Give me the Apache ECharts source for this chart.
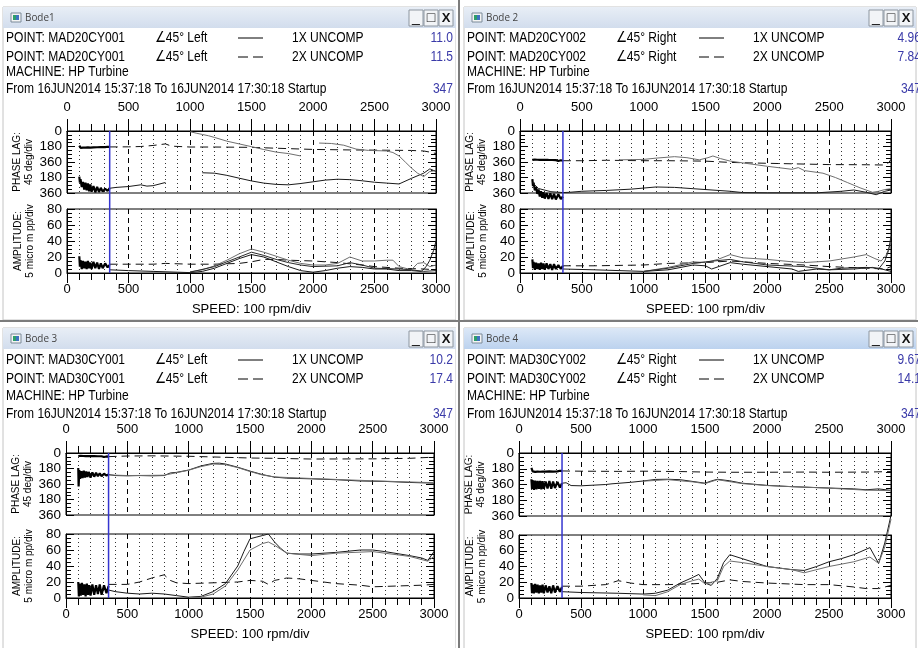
<!DOCTYPE html>
<html>
<head>
<meta charset="utf-8">
<script src="https://cdn.jsdelivr.net/npm/echarts@6/dist/echarts.min.js"></script>
<style>
  html, body { margin: 0; padding: 0; background: #fff; }
  #chart { width: 918px; height: 648px; }
</style>
</head>
<body>
<div id="chart"></div>
<script>
// axis ticks
const speedMin = 0, speedMax = 3000, speedStep = 500;
const phaseLabels = ['0', '180', '360', '180', '360']; // 0..720 deg, wrapped
const ampLabels = ['0', '20', '40', '60', '80'];
const cursorRpm = 347;

// ---- Bode1 : MAD20CY001 ----
const b1PhaseNoise2 = [[100,170],[110,195],[120,178],[130,192],[140,176],[150,194],[160,180],[170,190],[180,177],[190,193],[200,181],[215,190],[230,178],[245,189],[260,182],[275,188],[290,180],[310,187],[330,183],[347,185]];
const b1PhaseDash = [[347,185],[500,184],[600,180],[700,168],[800,150],[850,176],[1000,186],[1200,186],[1500,190],[1700,200],[2000,214],[2300,220],[2500,222],[2800,226],[2900,232],[2950,245],[3000,262]];
const b1PhaseNoise1 = [[100,530],[105,600],[110,560],[120,650],[130,590],[140,680],[150,600],[160,690],[170,610],[180,700],[190,620],[200,705],[215,640],[230,712],[245,650],[260,708],[275,660],[290,704],[310,670],[330,696],[347,665]];
const b1PhaseSolid = [[347,665],[400,655],[500,645],[600,625],[650,640],[700,635],[800,598],[900,'-'],[1100,485],[1200,490],[1300,515],[1400,548],[1500,580],[1600,605],[1700,620],[1800,625],[1900,610],[2000,590],[2100,570],[2200,560],[2300,565],[2400,578],[2500,595],[2600,605],[2700,615],[2800,550],[2900,490],[2950,440],[3000,470]];
const b1PhaseGrey = [[1000,8],[1050,25],[1100,40],[1150,55],[1200,75],[1300,118],[1400,150],[1500,182],[1600,215],[1700,245],[1800,262],[1900,290],[2000,'-'],[2050,140],[2150,145],[2250,165],[2350,210],[2450,225],[2600,232],[2650,250],[2700,290],[2750,360],[2800,430],[2850,490],[2900,530],[2950,470],[3000,460]];
const b1AmpNoise = [[100,21],[105,8],[110,16],[120,5],[130,15],[140,6],[150,14],[160,5],[170,15],[180,6],[190,13],[200,5],[215,14],[230,6],[245,13],[260,5],[275,12],[290,6],[310,12],[330,7],[347,10]];
const b1AmpDash = [[347,11],[500,11],[700,11],[800,12],[1000,11],[1200,11],[1400,12],[1500,14],[1600,17],[1700,17],[1800,16],[2000,15],[2200,13],[2400,10],[2500,8],[2700,6],[2900,5],[3000,4]];
const b1AmpSolid = [[347,4],[500,3],[700,2],[900,1],[1000,0.5],[1100,2],[1200,6],[1300,12],[1400,18],[1500,23],[1600,20],[1700,14],[1800,8],[1900,3],[2000,1],[2100,3],[2200,6],[2300,8],[2400,7],[2500,5],[2600,5],[2700,3],[2800,3],[2880,2],[2920,8],[2950,16],[2980,28],[3000,40]];
const b1AmpGrey = [[1000,1.5],[1100,4],[1200,9],[1300,16],[1400,24],[1500,30],[1600,26],[1700,21],[1800,16],[1900,12],[2000,10],[2100,10],[2200,12],[2300,20],[2400,15],[2500,15],[2600,16],[2650,16],[2700,8],[2800,4],[2850,12],[2900,13],[2950,8],[3000,10]];
const b1AmpMid = [[1000,1],[1200,8],[1400,20],[1500,26],[1600,22],[1700,17],[1800,13],[1900,10],[2000,8],[2200,9],[2300,13],[2400,10],[2500,6],[2700,5],[2800,4],[2900,2],[3000,3]];

// ---- Bode2 : MAD20CY002 ----
const b2PhaseNoise2 = [[100,335],[110,350],[120,332],[130,352],[140,334],[150,350],[160,335],[170,352],[180,336],[190,350],[200,334],[215,351],[230,336],[245,349],[260,337],[275,350],[290,338],[310,348],[330,340],[347,345]];
const b2PhaseDash = [[347,345],[500,345],[700,340],[1000,345],[1200,345],[1500,350],[1700,365],[2000,375],[2500,390],[2800,392],[2950,395],[2980,370],[3000,330]];
const b2PhaseNoise1 = [[100,560],[105,640],[110,600],[120,690],[130,650],[140,730],[150,680],[160,760],[170,700],[180,775],[190,710],[200,785],[215,720],[230,790],[245,725],[260,792],[275,730],[290,795],[310,735],[330,790],[347,760]];
const b2PhaseSolid = [[100,600],[150,668],[250,705],[347,715],[400,712],[500,700],[700,690],[900,675],[1100,650],[1250,655],[1400,670],[1500,680],[1700,700],[1800,715],[2000,718],[2400,718],[2600,700],[2700,685],[2800,712],[2880,740],[2950,700],[3000,685]];
const b2PhaseGrey = [[800,335],[1000,330],[1100,315],[1250,298],[1350,310],[1450,335],[1520,310],[1560,290],[1620,320],[1700,350],[1800,370],[2000,410],[2200,445],[2250,425],[2300,460],[2450,490],[2550,540],[2650,600],[2750,660],[2850,712],[2900,700],[2950,680],[3000,670]];
const b2AmpNoise = [[100,17],[105,6],[110,14],[120,4],[130,13],[140,5],[150,12],[160,4],[170,13],[180,5],[190,12],[200,4],[215,12],[230,5],[245,11],[260,4],[275,11],[290,5],[310,10],[330,5],[347,9]];
const b2AmpDash = [[347,9],[600,9],[1000,10],[1200,12],[1500,13],[1700,15],[2000,12],[2300,10],[2500,8],[2800,6],[2950,5],[3000,8]];
const b2AmpSolid = [[347,5],[600,4],[1000,2],[1200,4],[1400,10],[1500,9],[1550,5],[1700,13],[1800,11],[2000,8],[2200,5],[2250,2],[2400,5],[2500,4],[2600,6],[2800,7],[2900,6],[3000,2]];
const b2AmpGrey = [[1000,2],[1200,7],[1400,14],[1500,13],[1600,17],[1700,23],[1800,19],[2000,17],[2200,14],[2300,13],[2500,15],[2700,20],[2800,23],[2870,18],[2920,15],[2960,22],[3000,38]];
const b2AmpMid = [[1000,2],[1200,6],[1400,12],[1500,14],[1700,17],[1800,14],[2000,10],[2300,8],[2500,4],[2700,5],[2850,7],[2900,5],[2950,15],[2980,28],[3000,46]];

// ---- Bode3 : MAD30CY001 ----
const b3PhaseNoise2 = [[100,35],[110,50],[120,33],[130,52],[140,35],[150,50],[160,36],[170,51],[180,35],[190,50],[200,37],[215,50],[230,36],[245,49],[260,38],[275,48],[290,38],[310,47],[330,40],[347,42]];
const b3PhaseDash = [[347,42],[500,35],[700,33],[1000,38],[1300,50],[1500,58],[1700,62],[2000,70],[2500,68],[2800,62],[3000,48]];
const b3PhaseNoise1 = [[100,175],[103,390],[108,200],[115,300],[125,210],[135,290],[145,205],[155,285],[165,215],[175,280],[185,220],[200,285],[215,225],[230,275],[245,230],[260,270],[275,235],[290,270],[310,240],[330,262],[347,250]];
const b3PhaseSolid = [[347,250],[400,262],[500,265],[600,262],[700,265],[800,262],[850,232],[900,225],[1000,198],[1100,150],[1200,120],[1250,118],[1300,128],[1400,165],[1500,210],[1600,250],[1700,280],[1800,292],[2000,300],[2200,310],[2400,325],[2600,330],[2800,342],[3000,350]];
const b3PhaseGrey = [[350,255],[500,262],[800,258],[1000,200],[1100,158],[1200,128],[1300,135],[1400,170],[1500,215],[1600,255],[1700,278],[2000,296],[2500,323],[3000,345]];
const b3AmpNoise = [[100,20],[105,2],[110,18],[120,3],[130,19],[140,4],[150,17],[160,2],[170,18],[180,4],[190,16],[200,3],[215,17],[230,4],[245,16],[260,5],[275,17],[290,4],[310,16],[330,6],[347,15]];
const b3AmpDash = [[347,17],[500,17],[600,20],[700,25],[800,29],[850,22],[900,19],[1000,18],[1200,19],[1400,20],[1500,22],[1600,21],[1650,17],[1700,22],[1800,25],[1900,24],[2000,22],[2200,18],[2400,16],[2500,14],[2700,15],[2900,16],[3000,17]];
const b3AmpSolid = [[347,10],[400,8],[500,6],[600,5],[700,6],[800,5],[900,3],[1000,1],[1100,2],[1200,8],[1300,18],[1400,40],[1450,58],[1500,74],[1550,76],[1600,78],[1650,80],[1700,70],[1750,62],[1800,56],[1900,55],[2000,55],[2200,57],[2400,60],[2500,60],[2600,58],[2800,53],[2900,50],[2950,47],[3000,58]];
const b3AmpGrey = [[1000,0.5],[1100,1],[1200,5],[1300,15],[1400,35],[1500,60],[1600,68],[1650,70],[1700,66],[1800,56],[2000,53],[2200,56],[2500,58],[2800,52],[2950,46],[3000,52]];
const b3AmpMid = [];

// ---- Bode4 : MAD30CY002 ----
const b4PhaseNoise2 = [[100,170],[110,210],[120,195],[130,215],[140,198],[150,213],[160,196],[170,214],[180,198],[190,212],[200,197],[215,213],[230,199],[245,211],[260,200],[275,212],[290,201],[310,210],[330,203],[347,205]];
const b4PhaseDash = [[347,205],[500,208],[800,210],[1000,208],[1300,212],[1500,218],[1700,220],[2000,220],[2300,218],[2500,220],[2800,218],[3000,212]];
const b4PhaseNoise1 = [[100,300],[105,410],[110,310],[120,420],[130,315],[140,415],[150,318],[160,410],[170,320],[180,415],[190,322],[200,410],[215,325],[230,405],[245,320],[260,408],[275,325],[290,400],[310,330],[330,395],[347,345]];
const b4PhaseSolid = [[347,345],[380,340],[420,372],[500,375],[510,362],[700,360],[750,352],[900,335],[1000,320],[1100,302],[1200,300],[1300,305],[1400,325],[1500,345],[1550,320],[1600,300],[1700,318],[1800,345],[2000,370],[2200,385],[2500,400],[2700,410],[2800,420],[2900,410],[3000,428]];
const b4PhaseGrey = [[1000,322],[1200,305],[1400,330],[1500,350],[1600,305],[1800,350],[2000,372],[2500,402],[2800,425],[3000,430]];
const b4AmpNoise = [[100,19],[105,6],[110,17],[120,6],[130,18],[140,7],[150,17],[160,6],[170,16],[180,7],[190,17],[200,6],[215,16],[230,7],[245,15],[260,6],[275,16],[290,7],[310,15],[330,8],[347,14]];
const b4AmpDash = [[347,15],[500,15],[700,17],[800,22],[900,19],[1000,17],[1200,17],[1400,18],[1500,19],[1600,20],[1700,23],[1800,21],[2000,19],[2300,17],[2500,17],[2700,14],[2800,12],[2900,12],[3000,16]];
const b4AmpSolid = [[347,8],[500,7],[800,6],[1000,5],[1100,6],[1200,10],[1300,19],[1400,26],[1450,30],[1500,19],[1550,16],[1600,25],[1650,45],[1700,55],[1800,50],[1900,45],[2000,40],[2100,38],[2200,36],[2300,35],[2400,40],[2500,46],[2600,50],[2700,55],[2830,64],[2900,44],[2950,70],[3000,105]];
const b4AmpGrey = [[1000,4],[1100,3],[1200,8],[1300,17],[1400,22],[1450,24],[1500,18],[1600,22],[1650,40],[1700,47],[1800,45],[2000,40],[2200,36],[2300,32],[2500,40],[2700,46],[2830,52],[2900,44],[2950,65],[3000,100]];
const b4AmpMid = [];

const FONT = "'Liberation Sans',Arial,sans-serif";
const NARROW = 0.83; // the original uses a narrow face; squeeze header text to match

// window layout
const panels = [
  { title: 'Bode1', point: 'MAD20CY001', side: 'Left', v1: '11.0', v2: '11.5', x0: 0, x1: 458, barY: 7, rowY: [38, 57, 72, 89],
    left: 67, width: 369, phaseTop: 131, phaseH: 62, ampTop: 209, ampH: 64, valRight: 453,
    phase: [b1PhaseNoise2, b1PhaseDash, b1PhaseNoise1, b1PhaseSolid, b1PhaseGrey], amp: [b1AmpNoise, b1AmpDash, b1AmpSolid, b1AmpGrey, b1AmpMid], noClip: [] },
  { title: 'Bode 2', point: 'MAD20CY002', side: 'Right', v1: '4.96', v2: '7.84', x0: 461, x1: 918, barY: 7, rowY: [38, 57, 72, 89],
    left: 520, width: 371, phaseTop: 131, phaseH: 62, ampTop: 209, ampH: 64, valRight: 921,
    phase: [b2PhaseNoise2, b2PhaseDash, b2PhaseNoise1, b2PhaseSolid, b2PhaseGrey], amp: [b2AmpNoise, b2AmpDash, b2AmpSolid, b2AmpGrey, b2AmpMid], noClip: ['p2', 'p3'] },
  { title: 'Bode 3', point: 'MAD30CY001', side: 'Left', v1: '10.2', v2: '17.4', x0: 0, x1: 458, barY: 328, rowY: [360, 379, 396, 414],
    left: 66, width: 368, phaseTop: 453, phaseH: 62, ampTop: 534, ampH: 64, valRight: 453,
    phase: [b3PhaseNoise2, b3PhaseDash, b3PhaseNoise1, b3PhaseSolid, b3PhaseGrey], amp: [b3AmpNoise, b3AmpDash, b3AmpSolid, b3AmpGrey, b3AmpMid], noClip: [] },
  { title: 'Bode 4', point: 'MAD30CY002', side: 'Right', v1: '9.67', v2: '14.1', x0: 461, x1: 918, barY: 328, rowY: [360, 379, 396, 414],
    left: 519, width: 372, phaseTop: 453, phaseH: 63, ampTop: 535, ampH: 63, valRight: 921, active: true,
    phase: [b4PhaseNoise2, b4PhaseDash, b4PhaseNoise1, b4PhaseSolid, b4PhaseGrey], amp: [b4AmpNoise, b4AmpDash, b4AmpSolid, b4AmpGrey, b4AmpMid], noClip: ['a2', 'a3'] }
];

// line looks: noise, 2X dashed, noise, 1X, grey trace
const phaseStyles = [
  { color: '#000', width: 2.2 },
  { color: '#111', width: 1, type: [8, 5] },
  { color: '#000', width: 2.2 },
  { color: '#1a1a1a', width: 1 },
  { color: '#6e6e6e', width: 1 }
];
const ampStyles = [
  { color: '#000', width: 2.2 },
  { color: '#111', width: 1, type: [8, 5] },
  { color: '#1a1a1a', width: 1 },
  { color: '#6e6e6e', width: 1 },
  { color: '#2a2a2a', width: 1 }
];

const chart = echarts.init(document.getElementById('chart'), null, { renderer: 'canvas' });

const grids = [], xAxes = [], yAxes = [], series = [];

function xAxis(gi, top) {
  return {
    type: 'value', gridIndex: gi, position: top ? 'top' : 'bottom',
    min: speedMin, max: speedMax, interval: speedStep,
    axisLine: { show: true, onZero: false, lineStyle: { color: '#000', width: 1 } },
    axisTick: { show: true, length: top ? 12 : 10, lineStyle: { color: '#000' } },
    minorTick: { show: true, splitNumber: 5, length: 7, lineStyle: { color: '#000' } },
    splitLine: { show: true, lineStyle: { color: '#000', width: 1, type: [5, 4] } },
    minorSplitLine: { show: true, lineStyle: { color: '#333', width: 1, type: [1, 3] } },
    axisLabel: { show: true, margin: top ? 17 : 10, fontSize: 13, fontFamily: FONT, color: '#000', formatter: v => String(v) },
    name: top ? '' : 'SPEED: 100 rpm/div', nameLocation: 'middle', nameGap: 30,
    nameTextStyle: { fontSize: 13, fontFamily: FONT, color: '#000' }
  };
}

function yAxis(gi, phase, right) {
  const ax = {
    type: 'value', gridIndex: gi, position: right ? 'right' : 'left',
    inverse: phase, min: 0, max: phase ? 720 : 80, interval: phase ? 180 : 20,
    axisLine: { show: true, onZero: false, lineStyle: { color: '#000', width: 1 } },
    axisTick: { show: true, inside: true, length: 8, lineStyle: { color: '#000' } },
    minorTick: { show: true, splitNumber: 4, length: 5, lineStyle: { color: '#000' } },
    splitLine: { show: false },
    axisLabel: {
      show: !right, margin: 5, fontSize: 13.5, fontFamily: FONT, color: '#000',
      formatter: v => phase ? phaseLabels[Math.round(v / 180)] : ampLabels[Math.round(v / 20)]
    }
  };
  if (!right) {
    ax.name = phase ? 'PHASE LAG:\n45 deg/div' : 'AMPLITUDE:\n5 micro m pp/div';
    ax.nameLocation = 'middle';
    ax.nameRotate = 90;
    ax.nameGap = 31;
    ax.nameTextStyle = { fontSize: 10, lineHeight: 12, fontFamily: FONT, color: '#000' };
  }
  return ax;
}

panels.forEach((p, pi) => {
  [true, false].forEach(isPhase => {
    const gi = grids.length;
    grids.push({
      left: p.left, width: p.width,
      top: isPhase ? p.phaseTop : p.ampTop, height: isPhase ? p.phaseH : p.ampH,
      show: true, borderColor: '#000', borderWidth: 1, containLabel: false
    });
    xAxes.push(xAxis(gi, isPhase));
    yAxes.push(yAxis(gi, isPhase, false));
    yAxes.push(yAxis(gi, isPhase, true));
    const sets = isPhase ? p.phase : p.amp;
    const styles = isPhase ? phaseStyles : ampStyles;
    sets.forEach((d, k) => {
      if (!d.length) return;
      const tag = (isPhase ? 'p' : 'a') + k;
      series.push({
        type: 'line', xAxisIndex: gi, yAxisIndex: gi * 2, data: d,
        symbol: 'none', showSymbol: false, smooth: false, animation: false, silent: true,
        clip: p.noClip.indexOf(tag) < 0,
        lineStyle: { color: styles[k].color, width: styles[k].width, type: styles[k].type || 'solid' },
        z: 3
      });
    });
  });
});

// window chrome and header text
function chrome() {
  const g = [];
  const txt = (x, y, text, extra, sx) => ({
    type: 'text', x: x, y: y, z: 10, scaleX: sx || 1,
    style: Object.assign({ text: text, fill: '#000', fontSize: 14.5, fontFamily: FONT,
      align: 'left', textAlign: 'left', verticalAlign: 'middle', textVerticalAlign: 'middle' }, extra || {})
  });
  panels.forEach(p => {
    const bx = p.x0 + 3, bw = p.x1 - p.x0 - 5;
    // frame
    g.push({ type: 'rect', z: 1, shape: { x: bx, y: p.barY, width: bw, height: (p.barY < 100 ? 313 : 330) }, style: { fill: 'none', stroke: '#c4c4c4', lineWidth: 1 } });
    // title bar
    g.push({ type: 'rect', z: 2, shape: { x: bx, y: p.barY, width: bw, height: 21 },
      style: { fill: new echarts.graphic.LinearGradient(0, 0, 0, 1, p.active
        ? [{ offset: 0, color: '#dce8f7' }, { offset: 1, color: '#bcd2ee' }]
        : [{ offset: 0, color: '#e8eef6' }, { offset: 1, color: '#d2dded' }]) } });
    // icon
    g.push({ type: 'rect', z: 3, shape: { x: bx + 8, y: p.barY + 6, width: 10, height: 9 }, style: { fill: '#f4f4f4', stroke: '#7a8a99', lineWidth: 1 } });
    g.push({ type: 'rect', z: 4, shape: { x: bx + 10, y: p.barY + 8, width: 3, height: 5 }, style: { fill: '#2e9e6a' } });
    g.push({ type: 'rect', z: 4, shape: { x: bx + 13, y: p.barY + 8, width: 3, height: 5 }, style: { fill: '#3f72c0' } });
    g.push(txt(bx + 22, p.barY + 11, p.title, { fontSize: 11, fontFamily: "'Open Sans','Liberation Sans',sans-serif", fill: '#444' }, 0.9));
    // buttons _ [] X
    const right = p.x1 - 4;
    [['_', 2], ['\u25a1', 1], ['X', 0]].forEach(([s, i]) => {
      const x = right - 15 * (i + 1);
      g.push({ type: 'rect', z: 3, shape: { x: x, y: p.barY + 3, width: 14, height: 16 }, style: { fill: '#f2f4f7', stroke: '#8d96a0', lineWidth: 1 } });
      g.push(txt(x + 7, p.barY + 11, s, { align: 'center', textAlign: 'center', fontSize: s === 'X' ? 13 : 14, fontWeight: s === 'X' ? 'bold' : 'normal', fontFamily: FONT, fill: '#111' }));
    });
    // header rows
    const x = p.x0 + 6, r = p.rowY;
    [[p.v1, 'solid', '1X UNCOMP'], [p.v2, 'dashed', '2X UNCOMP']].forEach(([v, dash, lab], i) => {
      g.push(txt(x, r[i], 'POINT: ' + p.point, null, NARROW));
      g.push(txt(p.x0 + 155, r[i], '\u222045\u00b0 ' + p.side, null, NARROW));
      g.push({ type: 'line', z: 10, shape: { x1: p.x0 + 238, y1: r[i], x2: p.x0 + 263, y2: r[i] },
        style: { stroke: '#000', lineWidth: 1, lineDash: dash === 'dashed' ? [10, 5] : null } });
      g.push(txt(p.x0 + 292, r[i], lab, null, NARROW));
      g.push(txt(p.valRight, r[i], v, { align: 'right', textAlign: 'right', fill: '#3a3aa8' }, NARROW));
    });
    g.push(txt(x, r[2], 'MACHINE: HP Turbine', null, NARROW));
    g.push(txt(x, r[3], 'From 16JUN2014 15:37:18 To 16JUN2014 17:30:18 Startup', null, NARROW));
    g.push(txt(p.valRight, r[3], String(cursorRpm), { align: 'right', textAlign: 'right', fill: '#3a3aa8' }, NARROW));
  });
  // separators between windows
  g.push({ type: 'rect', z: 20, shape: { x: 456, y: 0, width: 5, height: 648 }, style: { fill: '#fff' } });
  g.push({ type: 'line', z: 21, shape: { x1: 459, y1: 0, x2: 459, y2: 648 }, style: { stroke: '#7c7c7c', lineWidth: 2 } });
  g.push({ type: 'line', z: 21, shape: { x1: 0, y1: 321, x2: 918, y2: 321 }, style: { stroke: '#7c7c7c', lineWidth: 2 } });
  return g;
}

const base = chrome();
chart.setOption({
  animation: false,
  backgroundColor: '#fff',
  grid: grids, xAxis: xAxes, yAxis: yAxes, series: series,
  graphic: base
});

// cursor at 347 rpm, from the phase top to the amplitude bottom
const cursors = panels.map((p, pi) => {
  const a = chart.convertToPixel({ gridIndex: pi * 2 }, [cursorRpm, 0]);
  const b = chart.convertToPixel({ gridIndex: pi * 2 + 1 }, [cursorRpm, 0]);
  return { type: 'line', z: 30, shape: { x1: a[0], y1: a[1], x2: a[0], y2: b[1] }, style: { stroke: '#3535d0', lineWidth: 1.5 } };
});
chart.setOption({ graphic: base.concat(cursors) });
</script>
</body>
</html>
